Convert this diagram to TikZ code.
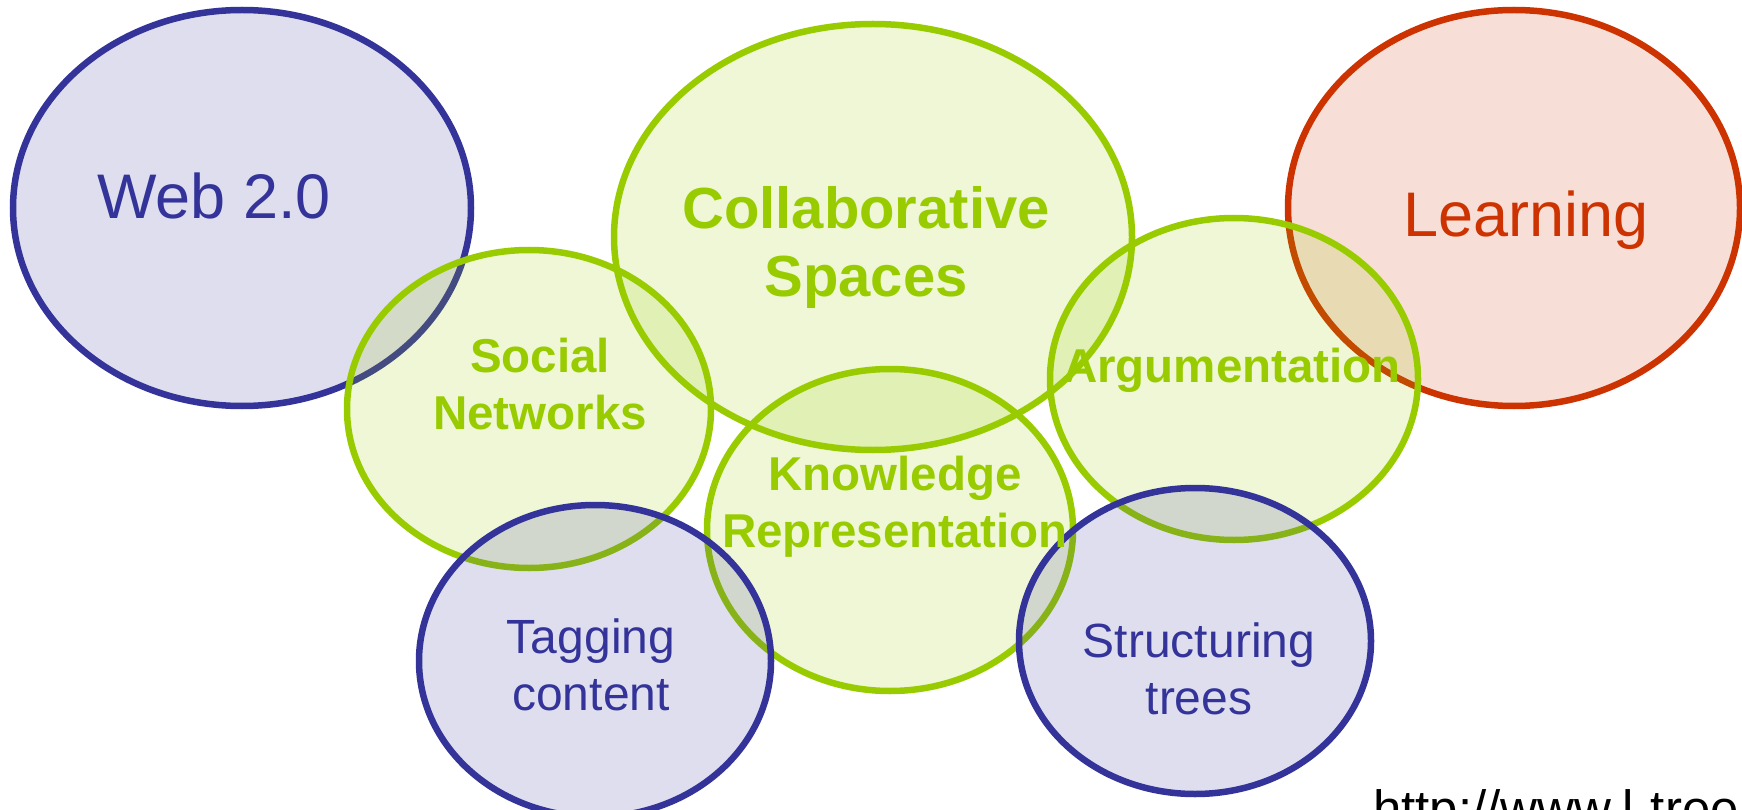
\documentclass[tikz,border=0pt]{standalone}
\usepackage{fontspec}
\setmainfont{Liberation Sans}
\usetikzlibrary{shapes.geometric}
\definecolor{cblue}{HTML}{333399}
\definecolor{cgreen}{HTML}{99CC00}
\definecolor{cred}{HTML}{CC3300}
\begin{document}
\begin{tikzpicture}[x=1pt,y=-1pt,
  bub/.style={ellipse, line width=6.5pt, inner sep=0pt, fill opacity=0.16, draw opacity=1},
  bluebub/.style={bub, draw=cblue, fill=cblue},
  greenbub/.style={bub, draw=cgreen, fill=cgreen},
  redbub/.style={bub, draw=cred, fill=cred},
  big/.style={font=\fontsize{63}{70}\selectfont, anchor=base},
  bigbold/.style={font=\fontsize{58}{69}\selectfont\bfseries, text=cgreen, align=center, anchor=base},
  midbold/.style={font=\fontsize{47.5}{57}\selectfont\bfseries, text=cgreen, align=center, anchor=base},
  midreg/.style={font=\fontsize{48}{57}\selectfont, text=cblue, align=center, anchor=base}]
\useasboundingbox (0,0) rectangle (1742,810);
\clip (0,0) rectangle (1742,810);
% bubbles
\node[bluebub, minimum width=458pt, minimum height=396pt] (web) at (242,208) {};
\node[redbub, minimum width=452pt, minimum height=396pt] (learn) at (1514,208) {};
\node[greenbub, minimum width=518pt, minimum height=426pt] (collab) at (873,237) {};
\node[greenbub, minimum width=364pt, minimum height=318pt] (social) at (529,409) {};
\node[greenbub, minimum width=366pt, minimum height=322pt] (know) at (890,530) {};
\node[greenbub, minimum width=368pt, minimum height=322pt] (arg) at (1234,379) {};
\node[bluebub, minimum width=352pt, minimum height=312pt] (tag) at (595,661) {};
\node[bluebub, minimum width=352pt, minimum height=306pt] (struct) at (1195,641) {};
% labels (base anchor = baseline of the last line)
\node[big, text=cblue] (webl) at (214,219) {Web 2.0};
\node[big, text=cred] (learnl) at (1526,237) {Learning};
\node[bigbold] (collabl) at (866,297) {Collaborative\\Spaces};
\node[midbold] (sociall) at (540,429) {Social\\Networks};
\node[midbold] (argl) at (1232,382) {Argumentation};
\node[midbold] (knowl) at (895,547) {Knowledge\\Representation};
\node[midreg] (tagl) at (591,710) {Tagging\\content};
\node[midreg] (structl) at (1199,714) {Structuring\\trees};
\node[font=\fontsize{51}{60}\selectfont, anchor=base west, inner sep=0pt] (url) at (1373,826) {http://www.l-tree};
\end{tikzpicture}
\end{document}
